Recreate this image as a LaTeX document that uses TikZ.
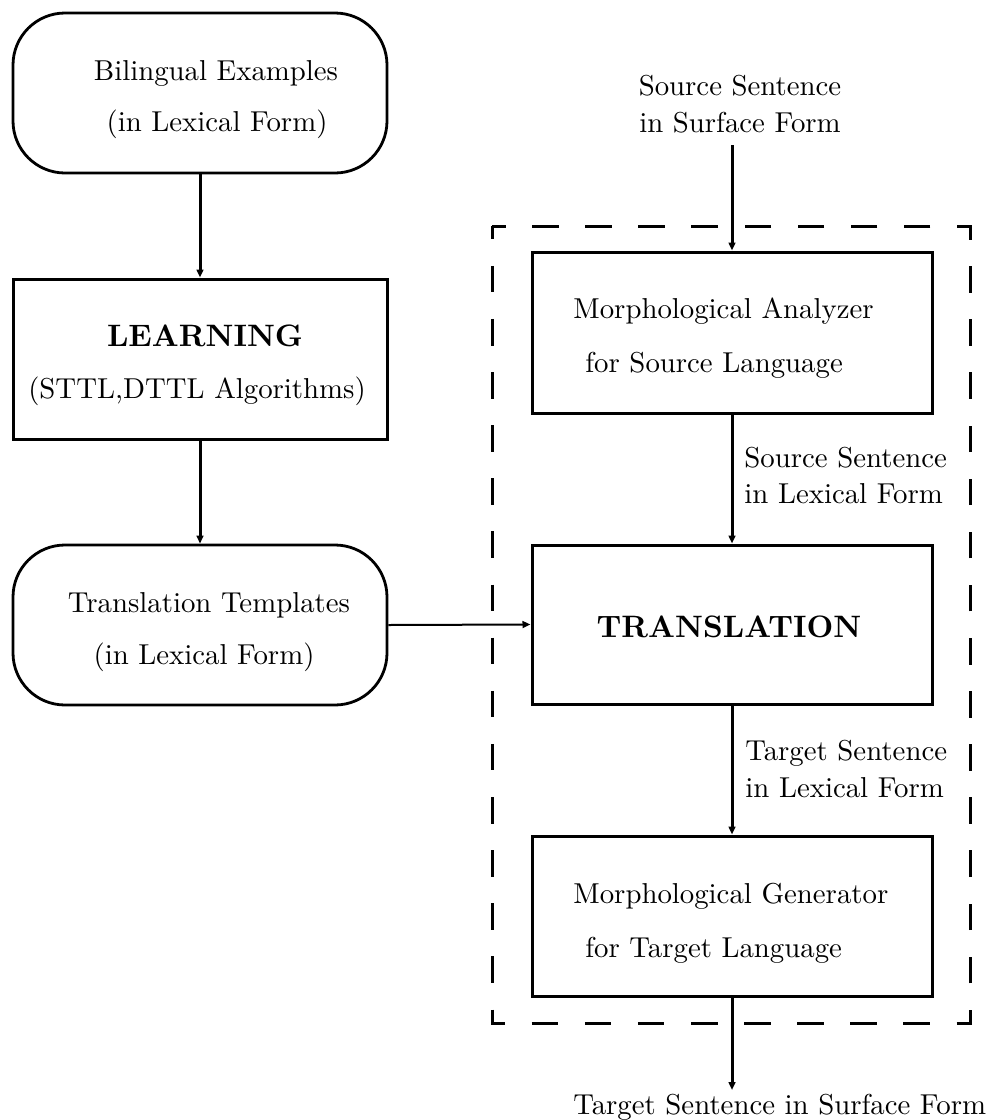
\documentclass[tikz,border=0pt]{standalone}
\usepackage{fontspec}
\setmainfont{lmroman10}[Extension=.otf, UprightFont=*-regular, BoldFont=*-bold]
\usetikzlibrary{arrows.meta}
\begin{document}
\begin{tikzpicture}[x=0.5pt,y=-0.5pt,
  font=\fontsize{14.4}{17}\selectfont,
  txt/.style={inner sep=0pt, anchor=base},
  txtl/.style={inner sep=0pt, anchor=base west},
  boldtxt/.style={inner sep=0pt, anchor=base, font=\fontsize{15.5}{18}\selectfont\bfseries},
  sqbox/.style={draw, line width=1.5pt, rectangle, inner sep=0pt},
  rbox/.style={draw, line width=1.4pt, rectangle, rounded corners=26pt, inner sep=0pt},
  leftbox/.style={minimum width=187pt, minimum height=80pt},
  rightbox/.style={minimum width=200pt, minimum height=80pt},
  arr/.style={line width=1.5pt, -{Triangle[length=4pt,width=3.4pt]}},
  thinarr/.style={line width=1pt, -{Triangle[length=4pt,width=3.4pt]}},
  dashbox/.style={line width=1.5pt, dash pattern=on 13.28pt off 13.28pt, dash phase=6.64pt}
]
\useasboundingbox (0,0) rectangle (991,1120);

% left column
\node[rbox, leftbox] (bil) at (200,93) {};
\node[txt] (bil1) at (216,80) {Bilingual Examples};
\node[txt] (bil2) at (217,131) {(in Lexical Form)};

\node[sqbox, leftbox] (learn) at (200,359) {};
\node[boldtxt] (learn1) at (205,346) {LEARNING};
\node[txt] (learn2) at (197,398) {(STTL,DTTL Algorithms)};

\node[rbox, leftbox] (tmpl) at (200,625) {};
\node[txt] (tmpl1) at (209,612) {Translation Templates};
\node[txt] (tmpl2) at (204,664) {(in Lexical Form)};

% right column
\draw[dashbox] (492,226) rectangle (970,1023);

\node[txt] (src1) at (740,95) {Source Sentence};
\node[txt] (src2) at (740,132) {in Surface Form};
\coordinate (srcend) at (732,145);

\node[sqbox, rightbox, minimum height=80.5pt] (ma) at (732,332.5) {};
\node[txtl] (ma1) at (573,318) {Morphological Analyzer};
\node[txtl] (ma2) at (585,372) {for Source Language};

\node[txtl] (sl1) at (744,467) {Source Sentence};
\node[txtl] (sl2) at (744,503) {in Lexical Form};

\node[sqbox, rightbox, minimum height=79.5pt] (trans) at (732,624.5) {};
\node[boldtxt] (trans1) at (729,637) {TRANSLATION};

\node[txtl] (tl1) at (745,760) {Target Sentence};
\node[txtl] (tl2) at (745,797) {in Lexical Form};

\node[sqbox, rightbox] (mg) at (732,916) {};
\node[txtl] (mg1) at (573,903) {Morphological Generator};
\node[txtl] (mg2) at (585,957) {for Target Language};

\coordinate (tgtend) at (732,1090);
\node[txtl] (tgt) at (573,1114) {Target Sentence in Surface Form};

% connectors
\draw[arr] (bil.south) -- (learn.north);
\draw[arr] (learn.south) -- (tmpl.north);
\draw[thinarr] (tmpl.east) -- (trans.west);
\draw[arr] (srcend) -- (ma.north);
\draw[arr] (ma.south) -- (trans.north);
\draw[arr] (trans.south) -- (mg.north);
\draw[arr] (mg.south) -- (tgtend);
\end{tikzpicture}
\end{document}
